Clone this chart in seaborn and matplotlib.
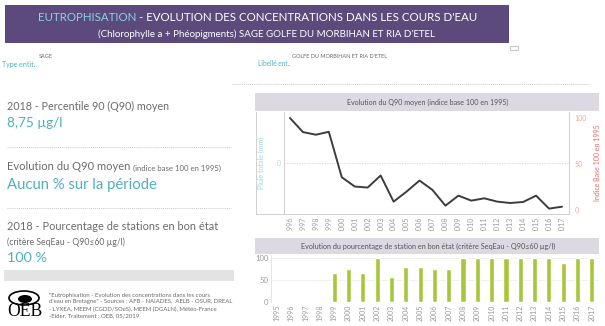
import numpy as np
import pandas as pd
import matplotlib
matplotlib.use("Agg")
import matplotlib.pyplot as plt
from matplotlib.patches import Rectangle, Ellipse
from matplotlib.lines import Line2D
from matplotlib.transforms import Bbox
import seaborn as sns

# ---- data -------------------------------------------------------------
q90_years = list(range(1996, 2018))
q90_index = [100, 84.7, 81.8, 85, 35.6, 25.5, 24.4, 37.5, 9.1, 20, 32, 21.8,
             4.7, 15.6, 10.2, 12.7, 9.1, 7.6, 8.7, 15.6, 1.5, 3.6]

station_years = [str(y) for y in range(1995, 2018)]
station_pct = [np.nan, np.nan, np.nan, np.nan, 67, 75, 67, 100, 57, 80, 80, 75, 75,
               100, 100, 100, 100, 100, 100, 100, 89, 100, 100]

rain_ticks = [0]
index_ticks = [0, 50, 100]
pct_ticks = [0, 50, 100]

# ---- figure -----------------------------------------------------------
W, H = 605, 326
sns.set_theme(style="white")
plt.rcParams["font.family"] = ["Lato", "DejaVu Sans"]

fig = plt.figure(figsize=(W / 100, H / 100), dpi=100)
fig.patch.set_facecolor("white")


def fx(x):
    return x / W


def fy(y):
    return 1 - y / H


def rect(x0, y0, x1, y1, **kw):
    fig.add_artist(Rectangle((fx(x0), fy(y1)), (x1 - x0) / W, (y1 - y0) / H,
                             transform=fig.transFigure, **kw))


def hline(x0, x1, y, **kw):
    fig.add_artist(Line2D([fx(x0), fx(x1)], [fy(y), fy(y)], transform=fig.transFigure, **kw))


def vline(x, y0, y1, **kw):
    fig.add_artist(Line2D([fx(x), fx(x)], [fy(y0), fy(y1)], transform=fig.transFigure, **kw))


renderer = fig.canvas.get_renderer()


def text(x, y, s, width=None, **kw):
    kw.setdefault("va", "center")
    t = fig.text(fx(x), fy(y), s, **kw)
    if width is not None:
        w = t.get_window_extent(renderer).width
        t.set_fontsize(t.get_fontsize() * width / w)
    return t


GREY_TXT = "#6b6b6b"
TEAL = "#4fb0bd"
BAR_BG = "#dcd9e2"

# ---- header -----------------------------------------------------------
rect(5, 5, 509, 43, color="#5b4a7b", lw=0)
t1 = text(38, 17.5, "EUTROPHISATION", color="#8fd0e2", fontsize=9, ha="left")
t2 = text(38, 17.5, " - EVOLUTION DES CONCENTRATIONS DANS LES COURS D'EAU",
          color="white", fontsize=9, ha="left")
w1 = t1.get_window_extent(renderer).width
w2 = t2.get_window_extent(renderer).width
scale = 439 / (w1 + w2)
t1.set_fontsize(9 * scale)
t2.set_fontsize(9 * scale)
w1 = t1.get_window_extent(renderer).width
t2.set_x(fx(38 + w1))
text(266.5, 34, "(Chlorophylle a + Phéopigments) SAGE GOLFE DU MORBIHAN ET RIA D'ETEL",
     width=339, color="white", fontsize=7, ha="center")

rect(510, 46, 518, 50, facecolor="white", edgecolor="#c8c8c8", lw=0.8)

text(2, 64, "Type entit..", width=35, color=TEAL, fontsize=5, ha="left")
text(39, 57, "SAGE", width=14, color=GREY_TXT, fontsize=4, ha="left")
text(258, 64, "Libellé ent..", width=33, color=TEAL, fontsize=5, ha="left")
text(292, 57, "GOLFE DU MORBIHAN ET RIA D'ETEL", width=94, color=GREY_TXT, fontsize=4, ha="left")

hline(232, 590, 84, color="#c8c8c8", lw=0.7, ls=(0, (1, 1)))

# ---- left KPI panel ---------------------------------------------------
text(7, 106, "2018 - Percentile 90 (Q90) moyen", width=163, color=GREY_TXT, fontsize=8, ha="left")
text(7, 123, "8,75 µg/l", width=56, color=TEAL, fontsize=11, ha="left")
hline(7, 231, 147, color="#c8c8c8", lw=0.7, ls=(0, (1, 1)))

ta = text(7, 167, "Evolution du Q90 moyen", color=GREY_TXT, fontsize=8, ha="left")
wa = ta.get_window_extent(renderer).width
text(7 + wa + 3, 168, "(indice base 100 en 1995)", color=GREY_TXT, fontsize=5.6, ha="left")
text(7, 185, "Aucun % sur la période", width=150, color=TEAL, fontsize=11, ha="left")
hline(7, 231, 208, color="#c8c8c8", lw=0.7, ls=(0, (1, 1)))

text(7, 227, "2018 - Pourcentage de stations en bon état", width=211, color=GREY_TXT, fontsize=8, ha="left")
text(7, 242, "(critère SeqEau - Q90≤60 µg/l)", width=118, color=GREY_TXT, fontsize=5.5, ha="left")
text(7, 258, "100 %", width=40, color=TEAL, fontsize=11, ha="left")
rect(4, 270, 234, 281, color="#e3e3e3", lw=0)

# logo
fig.add_artist(Ellipse((fx(24), fy(298)), 30 / W, 14 / H, transform=fig.transFigure,
                       facecolor="none", edgecolor="black", lw=1.2))
fig.add_artist(Ellipse((fx(25), fy(299)), 14 / W, 8 / H, transform=fig.transFigure,
                       facecolor="black", edgecolor="none"))
text(7, 312, "OEB", width=35, color="black", fontsize=12, ha="left",
     family=["Liberation Serif", "DejaVu Serif"])

foot = ['"Eutrophisation - Evolution des concentrations dans les cours',
        'd\'eau en Bretagne" - Sources : AFB - NAIADES,  AELB - OSUR, DREAL',
        '- LYXEA, MEEM (CGDD/SOeS), MEEM (DGALN), Météo-France',
        '-Eider. Traitement : OEB, 05/2019']
fref = text(49, 295, foot[1], width=182, color=GREY_TXT, fontsize=4, ha="left")
fref.set_y(fy(302))
fs = fref.get_fontsize()
for i, ln in enumerate(foot):
    if i == 1:
        continue
    text(49, 295 + 7 * i, ln, color=GREY_TXT, fontsize=fs, ha="left")

# ---- Q90 index chart --------------------------------------------------
rect(255, 93, 599, 111, color=BAR_BG, lw=0)
text(428, 102, "Evolution du Q90 moyen (indice base 100 en 1995)", width=162,
     color="#555555", fontsize=5.5, ha="center")

ax = fig.add_axes([fx(284), fy(214), (569 - 284) / W, (214 - 112) / H])
ax2 = ax.twinx()
sns.lineplot(x=q90_years, y=q90_index, ax=ax2, color="#3d3d3d", lw=1.4)

ax.set_xlim(1995.54, 2017.54)
ax.set_ylim(-1, 1)
ax.set_yticks(rain_ticks)
ax.set_yticklabels([str(v) for v in rain_ticks], color="#b5d9ef", fontsize=5)
ax.set_ylabel("Pluie totale (mm)", color="#a2cfee", fontsize=5, labelpad=9)
ax.axhline(0, color="#d4d4d4", lw=0.6, ls=(0, (1.5, 1.5)))
ax.set_xticks(q90_years)
ax.set_xticklabels([str(y) for y in q90_years], rotation=90, fontsize=5.0, color="#9a9a9a")
ax.tick_params(length=0, pad=2)

ax2.set_ylim(-4.35, 106.5)
ax2.set_yticks(index_ticks)
ax2.set_yticklabels([str(v) for v in index_ticks], color="#f3a3a3", fontsize=5)
ax2.set_ylabel("Indice Base 100 en 1995", color="#e86a6a", fontsize=5, labelpad=5)
ax2.tick_params(length=0, pad=4)
ax2.set_xlabel("")

for a in (ax, ax2):
    for s in a.spines.values():
        s.set_color("#d0d0d0")
        s.set_linewidth(0.7)
    a.spines["top"].set_visible(False)

# year labels run into the next panel's title bar and are cut there
clip = Bbox([[0, H - 231], [W, H]])
for lab in ax.get_xticklabels():
    lab.set_clip_on(True)
    lab.set_clip_box(clip)

vline(256, 112, 214, color="#d0d0d0", lw=0.7)
hline(256, 284, 214, color="#d0d0d0", lw=0.7)

# ---- station percentage chart -----------------------------------------
rect(255, 238, 599, 254, color=BAR_BG, lw=0)
text(428, 246, "Evolution du pourcentage de station en bon état (critère SeqEau - Q90≤60 µg/l)",
     width=256, color="#555555", fontsize=5.5, ha="center")

df = pd.DataFrame({"year": station_years, "pct": station_pct})
axb = fig.add_axes([fx(271), fy(302), (599 - 271) / W, (302 - 255) / H])
sns.barplot(data=df, x="year", y="pct", order=station_years, color="#a8c63c",
            saturation=1, width=0.36, errorbar=None, ax=axb)
axb.set_xlim(-0.42, 22.5)
axb.set_ylim(0, 106.8)
axb.set_yticks(pct_ticks)
axb.set_yticklabels([str(v) for v in pct_ticks], fontsize=5.5, color="#9a9a9a")
axb.set_xticks(range(len(station_years)))
axb.set_xticklabels(station_years, rotation=90, fontsize=5.0, color="#9a9a9a")
axb.tick_params(length=0, pad=2)
axb.set_xlabel("")
axb.set_ylabel("")
axb.grid(axis="y", color="#efefef", lw=0.6)
axb.set_axisbelow(True)
for name, s in axb.spines.items():
    s.set_visible(name == "left")
    s.set_color("#e6e6e6")
    s.set_linewidth(0.7)

fig.savefig("out.png", dpi=100, facecolor="white")
